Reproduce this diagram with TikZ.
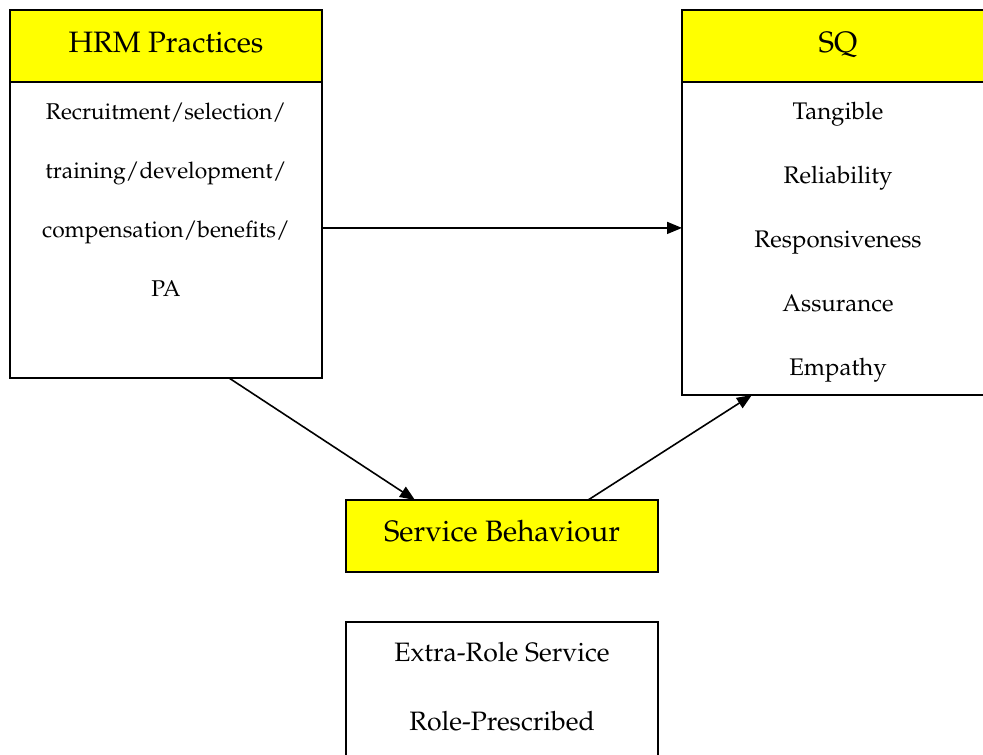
\documentclass[tikz,border=0pt]{standalone}
\usepackage[T1]{fontenc}
\usepackage{mathpazo}
\usetikzlibrary{arrows.meta,calc}
\definecolor{hdryellow}{RGB}{255,255,0}
\tikzset{
  box/.style={draw=black, line width=1.6pt, fill=white, minimum width=312pt, inner sep=0pt, outer sep=0pt},
  hdrbox/.style={box, fill=hdryellow, minimum height=72pt},
  hdrtext/.style={font=\fontsize{29.5}{34}\selectfont, inner sep=0pt, anchor=base},
  bodytext/.style={font=\fontsize{22.8}{28}\selectfont, inner sep=0pt, anchor=base},
  sqtext/.style={font=\fontsize{24}{28}\selectfont, inner sep=0pt, anchor=base},
  ertext/.style={font=\fontsize{26.6}{30}\selectfont, inner sep=0pt, anchor=base},
  conn/.style={line width=1.6pt, -{Triangle[length=15pt,width=12pt]}}
}
\begin{document}
\begin{tikzpicture}[x=1pt,y=-1pt]
\useasboundingbox (0,0) rectangle (983,755);
% HRM
\node[hdrbox, anchor=north west] (hrmhead) at (10,10) {};
\node[box, anchor=north west, minimum height=296pt] (hrmbody) at (10,82) {};
\node[hdrtext] (hrmt) at (166,52) {HRM Practices};
\node[bodytext] (h1) at (166,119) {Recruitment/selection/};
\node[bodytext] (h2) at (166,178) {training/development/};
\node[bodytext] (h3) at (166,237) {compensation/benefits/};
\node[bodytext] (h4) at (166,296) {PA};
% SQ
\node[hdrbox, anchor=north west] (sqhead) at (682,10) {};
\node[box, anchor=north west, minimum height=313pt] (sqbody) at (682,82) {};
\node[hdrtext] (sqt) at (838,52) {SQ};
\node[sqtext] (s1) at (838,119) {Tangible};
\node[sqtext] (s2) at (838,183) {Reliability};
\node[sqtext] (s3) at (838,247) {Responsiveness};
\node[sqtext] (s4) at (838,311) {Assurance};
\node[sqtext] (s5) at (838,375) {Empathy};
% Service Behaviour
\node[hdrbox, anchor=north west] (sb) at (346,500) {};
\node[hdrtext] (sbt) at (502,541) {Service Behaviour};
% Extra-role
\node[box, anchor=north west, minimum height=160pt] (er) at (346,622) {};
\node[ertext] (e1) at (502,661) {Extra-Role Service};
\node[ertext] (e2) at (502,730) {Role-Prescribed};
% connectors
\coordinate (hrmout) at ($(hrmbody.north east)!0.493!(hrmbody.south east)$);
\draw[conn] (hrmout) -- (sqbody.west |- hrmout);
\draw[conn] ($(hrmbody.south west)!0.702!(hrmbody.south east)$) -- ($(sb.north west)!0.221!(sb.north east)$);
\draw[conn] ($(sb.north west)!0.776!(sb.north east)$) -- ($(sqbody.south west)!0.224!(sqbody.south east)$);
\end{tikzpicture}
\end{document}
